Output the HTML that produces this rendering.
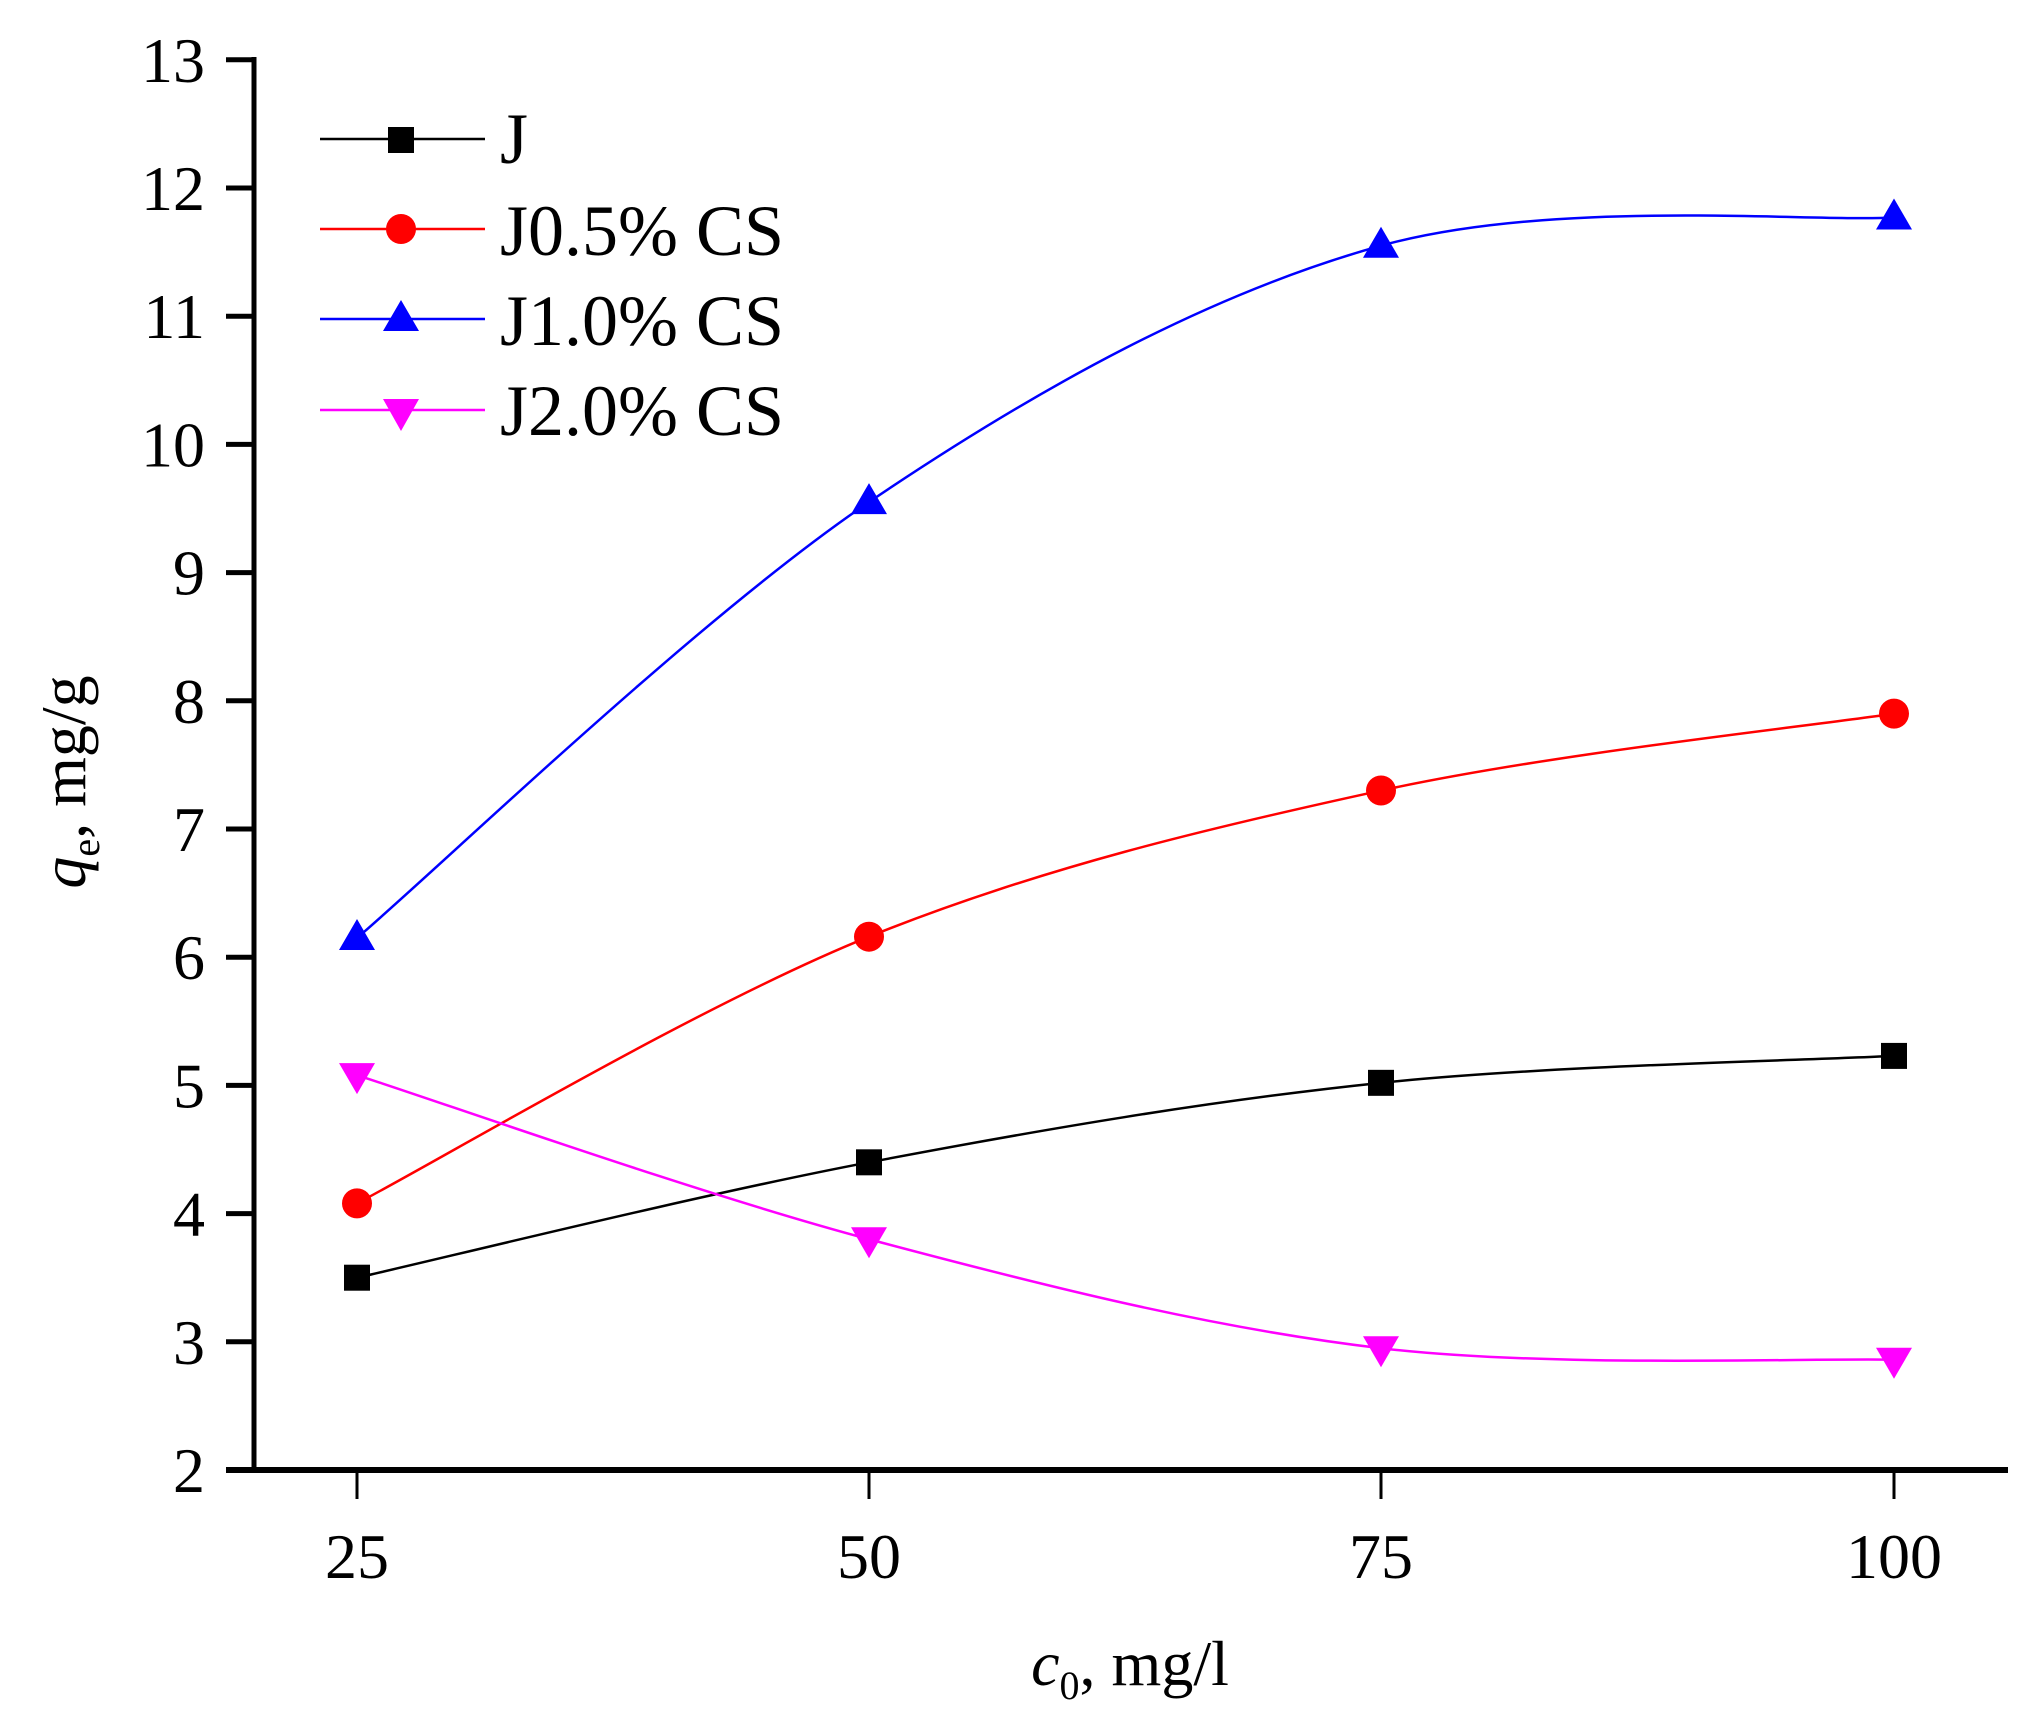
<!DOCTYPE html>
<html><head><meta charset="utf-8"><style>
html,body{margin:0;padding:0;background:#fff;}
svg{display:block;font-family:"Liberation Serif",serif;}
</style></head><body>
<svg id="s" width="2030" height="1732" viewBox="0 0 2030 1732" xmlns="http://www.w3.org/2000/svg">
<g id="curves" fill="none" stroke-width="2.5"></g>
<g id="marks"></g>
<line x1="254" y1="57" x2="254" y2="1470" stroke="#000" stroke-width="5"/>
<line x1="226" y1="1470" x2="2008" y2="1470" stroke="#000" stroke-width="6"/>
<g stroke="#000" stroke-width="5" id="yt"></g>
<g stroke="#000" stroke-width="3">
<line x1="357" y1="1470" x2="357" y2="1499"/>
<line x1="869" y1="1470" x2="869" y2="1499"/>
<line x1="1381" y1="1470" x2="1381" y2="1499"/>
<line x1="1894" y1="1470" x2="1894" y2="1499"/>
</g>
<g font-size="64" text-anchor="end" id="yl"></g>
<g font-size="64" text-anchor="middle">
<text x="357" y="1578">25</text>
<text x="869" y="1578">50</text>
<text x="1381" y="1578">75</text>
<text x="1894" y="1578">100</text>
</g>
<text x="1130" y="1685" font-size="64" text-anchor="middle"><tspan font-style="italic">c</tspan><tspan font-size="40" dy="14">0</tspan><tspan dy="-14">, mg/l</tspan></text>
<text transform="translate(85,782) rotate(-90)" font-size="64" text-anchor="middle"><tspan font-style="italic">q</tspan><tspan font-size="40" dy="14">e</tspan><tspan dy="-14">, mg/g</tspan></text>
<g font-size="72">
<line x1="320" y1="139" x2="485" y2="139" stroke="#000" stroke-width="2.5"/>
<rect x="388" y="127" width="26" height="26" fill="#000"/>
<text x="500" y="163">J</text>
<line x1="320" y1="229" x2="485" y2="229" stroke="#f00" stroke-width="2.5"/>
<circle cx="401" cy="229" r="15" fill="#f00"/>
<text x="500" y="255">J0.5% CS</text>
<line x1="320" y1="319" x2="485" y2="319" stroke="#00f" stroke-width="2.5"/>
<polygon points="401,300 419,331 383,331" fill="#00f"/>
<text x="500" y="345">J1.0% CS</text>
<line x1="320" y1="410" x2="485" y2="410" stroke="#f0f" stroke-width="2.5"/>
<polygon points="383,399 419,399 401,431" fill="#f0f"/>
<text x="500" y="435">J2.0% CS</text>
</g>
</svg>
<script>
var NS="http://www.w3.org/2000/svg";
function Y(v){return 1470-(v-2)*128.2;}
var X=[357,869,1381,1894];
var yt=document.getElementById('yt'),yl=document.getElementById('yl');
for(var v=2;v<=13;v++){var y=Y(v);
 if(v>2){var l=document.createElementNS(NS,'line');l.setAttribute('x1',226);l.setAttribute('x2',254);l.setAttribute('y1',y);l.setAttribute('y2',y);yt.appendChild(l);}
 var t=document.createElementNS(NS,'text');t.setAttribute('x',205);t.setAttribute('y',y+22);t.textContent=v;yl.appendChild(t);}
var S=[["#000",[3.5,4.4,5.02,5.23],"sq"],["#f00",[4.08,6.16,7.3,7.9],"ci"],["#00f",[6.15,9.55,11.55,11.77],"up"],["#f0f",[5.08,3.8,2.95,2.86],"dn"]];
var cg=document.getElementById('curves'),mg=document.getElementById('marks');
S.forEach(function(s){
 var P=s[1].map(function(v,i){return [X[i],Y(v)];});
 var d="M"+P[0][0]+","+P[0][1];
 for(var i=0;i<3;i++){var p0=P[Math.max(i-1,0)],p1=P[i],p2=P[i+1],p3=P[Math.min(i+2,3)];
  d+=" C"+(p1[0]+(p2[0]-p0[0])/6)+","+(p1[1]+(p2[1]-p0[1])/6)+" "+(p2[0]-(p3[0]-p1[0])/6)+","+(p2[1]-(p3[1]-p1[1])/6)+" "+p2[0]+","+p2[1];}
 var pa=document.createElementNS(NS,'path');pa.setAttribute('d',d);pa.setAttribute('stroke',s[0]);cg.appendChild(pa);
 P.forEach(function(p){var e;
  if(s[2]=="sq"){e=document.createElementNS(NS,'rect');e.setAttribute('x',p[0]-13);e.setAttribute('y',p[1]-13);e.setAttribute('width',26);e.setAttribute('height',26);}
  else if(s[2]=="ci"){e=document.createElementNS(NS,'circle');e.setAttribute('cx',p[0]);e.setAttribute('cy',p[1]);e.setAttribute('r',15);}
  else if(s[2]=="up"){e=document.createElementNS(NS,'polygon');e.setAttribute('points',p[0]+","+(p[1]-19)+" "+(p[0]+18)+","+(p[1]+12)+" "+(p[0]-18)+","+(p[1]+12));}
  else {e=document.createElementNS(NS,'polygon');e.setAttribute('points',(p[0]-18)+","+(p[1]-12)+" "+(p[0]+18)+","+(p[1]-12)+" "+p[0]+","+(p[1]+19));}
  e.setAttribute('fill',s[0]);mg.appendChild(e);});
});
</script>
</body></html>
